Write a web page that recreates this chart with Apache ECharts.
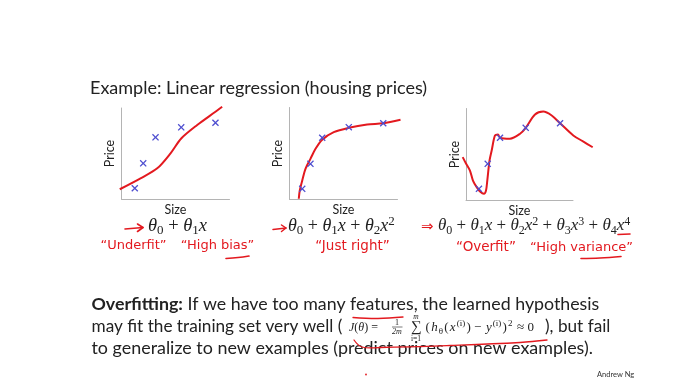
<!DOCTYPE html>
<html><head><meta charset="utf-8">
<script src="https://cdn.jsdelivr.net/npm/echarts@6/dist/echarts.min.js"></script>
<style>html,body{margin:0;padding:0;background:#fff}#c{width:678px;height:389px}</style>
</head><body><div id="c"></div>
<script>
// ---- data (Size / Price, axis units 0..100) ----
const underfitPointsX = [12.3, 20.1, 31.5, 55.3, 87.0];
const underfitPointsY = [11.8, 39.2, 67.8, 78.8, 83.8];
const underfitCurveX = [-1.6, 17.6, 33.1, 45.4, 55.3, 70.1, 87.0, 93.2];
const underfitCurveY = [10.7, 22.7, 33.7, 50.2, 66.5, 81.3, 95.9, 101.4];

const justRightPointsX = [11.8, 19.4, 30.3, 54.9, 86.8];
const justRightPointsY = [11.6, 38.8, 67.1, 78.6, 82.9];
const justRightCurveX = [8.6, 9.5, 11.8, 14.8, 19.4, 24.1, 30.3, 41.0, 54.9, 71.9, 86.8, 102.8];
const justRightCurveY = [0.8, 9.8, 20.7, 33.4, 44.2, 55.1, 65.0, 73.2, 77.9, 81.5, 82.9, 86.6];

const overfitPointsX = [12.1, 20.3, 31.8, 55.8, 87.9];
const overfitPointsY = [12.7, 39.9, 68.2, 79.0, 84.0];
const overfitCurveX = [-3.1, 0, 3.7, 6.5, 10, 13.1, 16.8, 18.7, 19.9, 22, 24, 27.1, 29.9, 31.8, 41.1, 50.5, 55.8, 64.5, 72.2, 80.1, 87.9, 100.3, 109.0, 118.4];
const overfitCurveY = [47.1, 40.2, 32.6, 21.7, 14.5, 9.8, 7.3, 10.9, 21.7, 43.5, 54.3, 70.7, 71.7, 68.2, 67.1, 72.5, 79, 93.5, 96.7, 92.4, 84, 70.7, 64.5, 57.9];

const xAxisName = 'Size';
const yAxisName = 'Price';
const titleText = 'Example: Linear regression (housing prices)';
const labels = ['“Underfit”', '“High bias”', '“Just right”', '“Overfit”', '“High variance”'];

// ---- styling ----
const RED = '#e3191f';
const BLUE = '#4e4ed0';
const AXIS = '#b4b4b4';
const INK = '#222222';
const SANS = 'Lato';
const SERIF = 'Liberation Serif';
const HAND = 'DejaVu Sans';
const CROSS = 'path://M0,1.3L1.3,0L5,3.7L8.7,0L10,1.3L6.3,5L10,8.7L8.7,10L5,6.3L1.3,10L0,8.7L3.7,5Z';

const zip = (a, b) => a.map((v, i) => [v, b[i]]);

// visible plot areas (axes 0..100)
const plotBoxes = [
  {left: 121.5, top: 108, width: 108, height: 91},
  {left: 289.5, top: 107.5, width: 108, height: 92},
  {left: 466, top: 108.5, width: 107, height: 92}
];
// same mapping, extended range (-10..120 / -10..110) so curves may run past the axes
const X0 = -10, X1 = 120, Y0 = -10, Y1 = 110;
const curveBoxes = plotBoxes.map(b => ({
  left: b.left + X0 * b.width / 100, width: (X1 - X0) * b.width / 100,
  top: b.top - (Y1 - 100) * b.height / 100, height: (Y1 - Y0) * b.height / 100
}));
const grids = plotBoxes.concat(curveBoxes).map(g => Object.assign({outerBoundsMode: 'none', containLabel: false}, g));

const hidden = {axisLine: {show: false}, axisTick: {show: false}, axisLabel: {show: false}, splitLine: {show: false}};
const axisCommon = {
  type: 'value', min: 0, max: 100,
  axisLine: {show: true, lineStyle: {color: AXIS, width: 1}},
  axisTick: {show: false}, axisLabel: {show: false}, splitLine: {show: false},
  nameTextStyle: {fontFamily: SANS, fontSize: 12.5, color: INK}
};
const xAxes = plotBoxes.map((g, i) => Object.assign({}, axisCommon, {
  gridIndex: i, name: xAxisName, nameLocation: 'middle', nameGap: 4,
  nameTextStyle: {fontFamily: SANS, fontSize: 12.5, color: INK, verticalAlign: 'top'}
})).concat(curveBoxes.map((g, i) => Object.assign({type: 'value', gridIndex: 3 + i, min: X0, max: X1}, hidden)));
const yAxes = plotBoxes.map((g, i) => Object.assign({}, axisCommon, {
  gridIndex: i, name: yAxisName, nameLocation: 'middle', nameGap: 5, nameRotate: 90
})).concat(curveBoxes.map((g, i) => Object.assign({type: 'value', gridIndex: 3 + i, min: Y0, max: Y1}, hidden)));

const curves = [[underfitCurveX, underfitCurveY], [justRightCurveX, justRightCurveY], [overfitCurveX, overfitCurveY]];
const points = [[underfitPointsX, underfitPointsY], [justRightPointsX, justRightPointsY], [overfitPointsX, overfitPointsY]];
const series = [];
curves.forEach((c, i) => series.push({
  type: 'line', xAxisIndex: 3 + i, yAxisIndex: 3 + i, data: zip(c[0], c[1]),
  smooth: 0.3, showSymbol: false, clip: false, silent: true,
  lineStyle: {color: RED, width: 2}, z: 2
}));
points.forEach((p, i) => series.push({
  type: 'scatter', xAxisIndex: i, yAxisIndex: i, data: zip(p[0], p[1]),
  symbol: CROSS, symbolSize: 7, itemStyle: {color: BLUE, opacity: 1}, clip: false, z: 3
}));

// ---- text helpers ----
function T(x, y, text, font, fill, extra) {
  return {type: 'text', x: x, y: y, silent: true,
    style: Object.assign({text: text, font: font, fill: fill || INK,
      align: 'left', textAlign: 'left', verticalAlign: 'middle', textVerticalAlign: 'middle'}, extra || {})};
}
function mathRich(size, pad) {
  const sub = Math.round(size * 0.7);
  const p = [0, pad || 0];
  return {
    m: {fontFamily: SERIF, fontStyle: 'italic', fontSize: size, lineHeight: size + 4, fill: INK, verticalAlign: 'middle', padding: p},
    r: {fontFamily: SERIF, fontSize: size, lineHeight: size + 4, fill: INK, verticalAlign: 'middle', padding: p},
    s: {fontFamily: SERIF, fontSize: sub, lineHeight: sub, fill: INK, verticalAlign: 'bottom', padding: p},
    p: {fontFamily: SERIF, fontSize: sub, lineHeight: sub, fill: INK, verticalAlign: 'top', padding: p}
  };
}
function R(x, y, text, size, pad) {
  return {type: 'text', x: x, y: y, silent: true,
    style: {text: text, rich: mathRich(size, pad), align: 'left', textAlign: 'left',
      verticalAlign: 'middle', textVerticalAlign: 'middle', fill: INK}};
}
function L(pts, w, smooth) {
  return {type: 'polyline', silent: true, shape: {points: pts, smooth: smooth === undefined ? 0.4 : smooth},
    style: {stroke: RED, lineWidth: w || 1.6, fill: null, lineCap: 'round', lineJoin: 'round'}};
}
const C = {align: 'center', textAlign: 'center'};

const handFont = '13px ' + HAND;
const graphic = [
  T(90, 88.5, titleText, '18px ' + SANS, INK),
  // hypotheses
  L([[125, 229], [134, 228.3], [143, 227.5]], 1.6, 0),
  L([[137.5, 224], [143, 227.5], [137.5, 231.5]], 1.6, 0),
  R(148, 226, '{m|θ}{s|0}{r| + }{m|θ}{s|1}{m|x}', 18.5),
  L([[273, 229.5], [286, 228]], 1.5, 0),
  L([[281.5, 225], [286, 228], [281.5, 231.5]], 1.5, 0),
  R(288, 226.5, '{m|θ}{s|0}{r| + }{m|θ}{s|1}{m|x}{r| + }{m|θ}{s|2}{m|x}{p|2}', 18),
  T(421, 227.5, '⇒', '15px ' + HAND, RED),
  R(438, 226, '{m|θ}{s|0}{r| + }{m|θ}{s|1}{m|x}{r| + }{m|θ}{s|2}{m|x}{p|2}{r| + }{m|θ}{s|3}{m|x}{p|3}{r| + }{m|θ}{s|4}{m|x}{p|4}', 17),
  // handwritten notes
  T(133.5, 246, labels[0], handFont, RED, C),
  T(217.5, 246, labels[1], handFont, RED, C),
  T(352.5, 246.5, labels[2], '13.5px ' + HAND, RED, C),
  T(486, 247.5, labels[3], '13.5px ' + HAND, RED, C),
  T(581.5, 247.5, labels[4], handFont, RED, C),
  L([[226, 258.5], [238, 257.5], [249, 256]]),
  L([[581, 258.5], [600, 258], [621, 256.5]]),
  L([[618, 234.5], [630, 234]]),
  // body text
  {type: 'text', x: 91.5, y: 304.5, silent: true, style: {
    text: '{b|Overfitting:}{n| If we have too many features, the learned hypothesis}',
    rich: {b: {fontFamily: SANS, fontWeight: 'bold', fontSize: 17.8, fill: INK},
           n: {fontFamily: SANS, fontSize: 17.8, fill: INK}},
    align: 'left', verticalAlign: 'middle', textAlign: 'left', textVerticalAlign: 'middle'}},
  T(91.5, 326, 'may fit the training set very well (', '17.2px ' + SANS, INK),
  R(349, 328, '{m|J}{r|(}{m|θ}{r|) =}', 12),
  T(397, 322.5, '1', '8px ' + SERIF, INK, C),
  {type: 'line', silent: true, shape: {x1: 392, y1: 327, x2: 402.5, y2: 327}, style: {stroke: INK, lineWidth: 0.6}},
  T(397, 332, '2m', 'italic 8px ' + SERIF, INK, C),
  T(416, 327.5, '∑', '15px ' + SERIF, INK, C),
  T(416, 317, 'm', 'italic 7.5px ' + SERIF, INK, C),
  T(416, 339.5, 'i=1', '7.5px ' + SERIF, INK, C),
  R(425, 328, '{r|(}{m|h}{s|θ}{r|(}{m|x}{p|(i)}{r|) − }{m|y}{p|(i)}{r|)}{p|2}{r| ≈ 0}', 13, 0.6),
  T(545, 326, '), but fail', '17.2px ' + SANS, INK),
  T(91.5, 348, 'to generalize to new examples (predict prices on new examples).', '17.9px ' + SANS, INK),
  L([[353, 317.5], [378, 318.5], [403, 317]], 1.3),
  L([[354, 340], [362, 347], [380, 347.5], [450, 345.5], [520, 342.5], [547, 340]], 1.3),
  {type: 'circle', silent: true, shape: {cx: 366, cy: 374.5, r: 0.9}, style: {fill: RED}},
  T(597, 375, 'Andrew Ng', '7.5px ' + SANS, '#333333')
];

const chart = echarts.init(document.getElementById('c'), null, {renderer: 'canvas'});
chart.setOption({
  backgroundColor: '#ffffff',
  animation: false,
  grid: grids,
  xAxis: xAxes,
  yAxis: yAxes,
  series: series,
  graphic: {elements: graphic}
});
</script></body></html>
